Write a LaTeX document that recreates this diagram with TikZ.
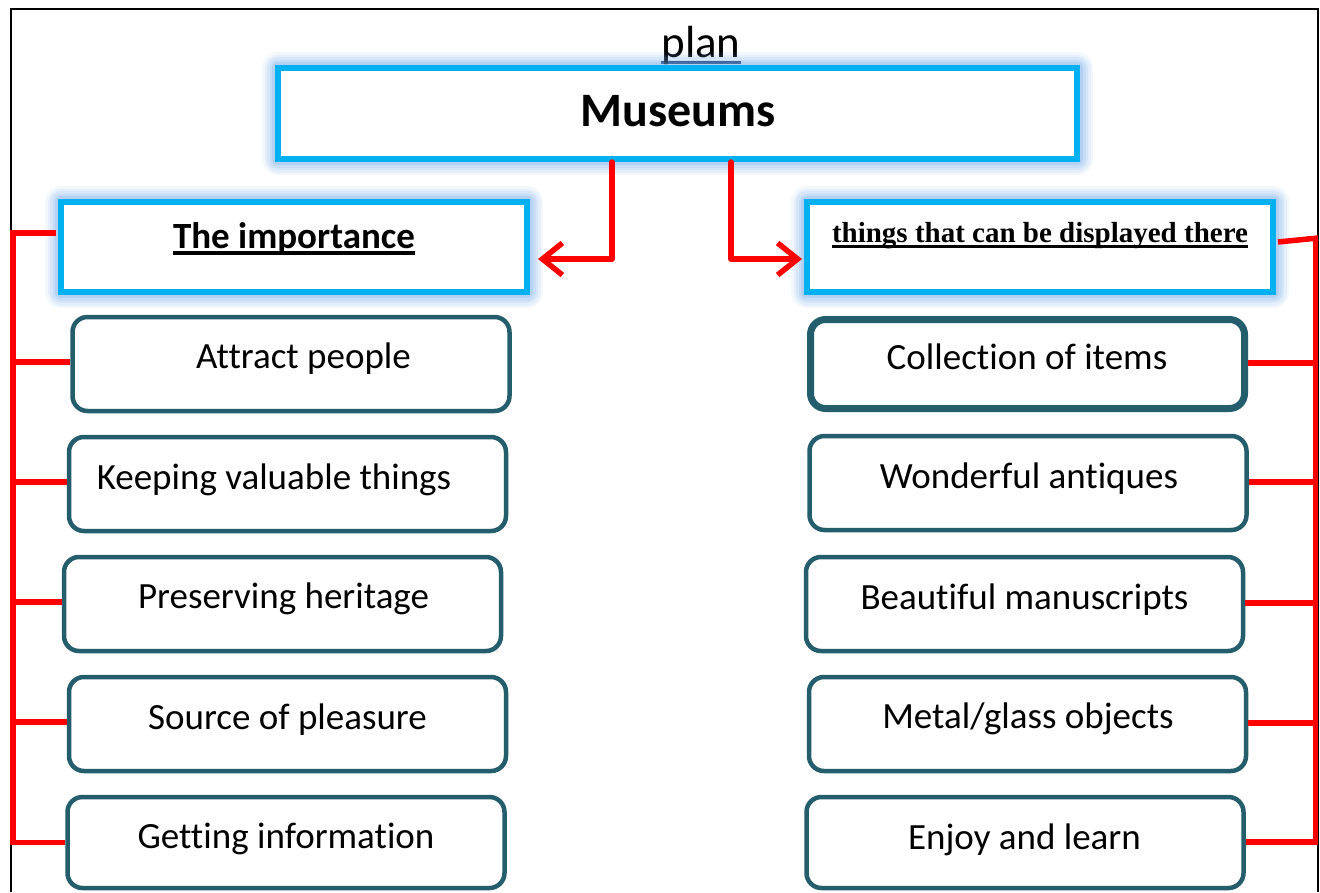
\documentclass[tikz,border=0pt]{standalone}
\usepackage{fontspec}
\setmainfont{Carlito}[Ligatures=NoCommon]
\newfontfamily\timesf{Liberation Serif}
\usetikzlibrary{arrows.meta}
\definecolor{cyanb}{HTML}{00B0F0}
\definecolor{glowc}{HTML}{6FA8EC}
\definecolor{tealb}{HTML}{245D6B}
\definecolor{navyu}{HTML}{1F3864}
\definecolor{redl}{HTML}{FF0000}
% #1 text, #2 rule thickness, #3 depth below baseline, #4 rule colour
\newcommand\myul[4]{\setbox0\hbox{#1}\rlap{\color{#4}\vrule width\wd0 height -#3 depth \dimexpr #3+#2\relax}\box0}
\begin{document}
\begin{tikzpicture}[x=1pt,y=-1pt,
  glow/.style={
    preaction={draw=glowc,line width=32pt,opacity=0.08,line join=round},
    preaction={draw=glowc,line width=27pt,opacity=0.1,line join=round},
    preaction={draw=glowc,line width=22pt,opacity=0.12,line join=round},
    preaction={draw=glowc,line width=17pt,opacity=0.15,line join=round},
    preaction={draw=glowc,line width=12pt,opacity=0.2,line join=round}},
  cyanbox/.style={rectangle,draw=cyanb,line width=6pt,fill=white,inner sep=0pt,glow},
  itembox/.style={rectangle,draw=tealb,line width=4.5pt,fill=white,rounded corners=15pt,
    inner sep=0pt,minimum width=437pt,minimum height=94pt},
  itemtxt/.style={font=\fontsize{37}{44}\selectfont,anchor=base,inner sep=0pt},
  redline/.style={draw=redl,line width=5.5pt},
  redarrow/.style={redline,line cap=round,line join=round,-{Straight Barb[length=20pt,width=32pt]}},
]
\useasboundingbox (0,0) rectangle (1320,892);
\fill[white] (0,0) rectangle (1320,892);
% page frame
\draw[black,line width=2.5pt] (11,892) -- (11,9) -- (1318,9) -- (1318,892);

% title
\node[anchor=base,inner sep=0pt,font=\fontsize{45}{54}\selectfont] (plan) at (701,57)
  {\myul{plan}{3pt}{4pt}{navyu}};

% cyan boxes
\node[cyanbox,minimum width=799pt,minimum height=91pt] (mus) at (677.5,113.5) {};
\node[cyanbox,minimum width=466pt,minimum height=90pt] (imp) at (294,247) {};
\node[cyanbox,minimum width=466pt,minimum height=90pt] (thg) at (1040,247) {};
\node[anchor=base,inner sep=0pt,font=\fontsize{48}{56}\selectfont\bfseries] (mustxt) at (678,126) {Museums};
\node[anchor=base,inner sep=0pt,font=\fontsize{37}{44}\selectfont\bfseries] (imptxt) at (294,248)
  {\myul{The importance}{4pt}{3pt}{black}};
\node[anchor=base,inner sep=0pt,font=\fontsize{29}{34}\timesf\bfseries] (thgtxt) at (1040,242)
  {\myul{things that can be displayed there}{2.5pt}{3pt}{black}};

% left items
\node[itembox] (L1) at (291,364) {};
\node[itembox] (L2) at (287.5,484) {};
\node[itembox] (L3) at (282.5,604) {};
\node[itembox] (L4) at (287.5,724) {};
\node[itembox,minimum height=91pt] (L5) at (286,842.5) {};
\node[itemtxt] (L1t) at (303.5,368) {Attract people};
\node[itemtxt] (L2t) at (274,489) {Keeping valuable things};
\node[itemtxt] (L3t) at (283.5,608) {Preserving heritage};
\node[itemtxt] (L4t) at (287.5,729) {Source of pleasure};
\node[itemtxt] (L5t) at (286,848) {Getting information};

% right items
\node[itembox,line width=7pt,minimum width=434pt,minimum height=89pt] (R1) at (1027.5,364) {};
\node[itembox] (R2) at (1028,483) {};
\node[itembox] (R3) at (1024.5,604) {};
\node[itembox] (R4) at (1027.5,724) {};
\node[itembox,minimum height=91pt] (R5) at (1025,842.5) {};
\node[itemtxt] (R1t) at (1027,369) {Collection of items};
\node[itemtxt] (R2t) at (1029,488) {Wonderful antiques};
\node[itemtxt] (R3t) at (1024.5,609) {Beautiful manuscripts};
\node[itemtxt] (R4t) at (1028,728) {Metal/glass objects};
\node[itemtxt] (R5t) at (1024.5,849) {Enjoy and learn};

% arrows from Museums
\draw[redarrow] ([xshift=-65.5pt]mus.south) |- ([xshift=8pt,yshift=-12pt]imp.east);
\draw[redarrow] ([xshift=53.5pt]mus.south) |- ([xshift=-2pt,yshift=-12pt]thg.west);

% left bracket
\coordinate (lx) at (13,0);
\coordinate (limp) at ([xshift=-2pt,yshift=14pt]imp.west);
\draw[redline] (limp) -- (limp -| lx) -- (L5.west -| lx) -- (L5.west);
\foreach \n in {L1,L2,L3,L4}{\draw[redline] ([yshift=2pt]\n.west -| lx) -- ([yshift=2pt]\n.west);}

% right bracket
\coordinate (rx) at (1315.5,0);
\coordinate (rthg) at ([xshift=2pt,yshift=5pt]thg.east);
\coordinate (rtop) at (1318,238);
\draw[redline] (rthg) -- (rtop);
\draw[redline] (rtop -| rx) -- ([yshift=0.5pt]R5.east -| rx) -- ([yshift=0.5pt]R5.east);
\foreach \n in {R1,R2,R3,R4}{\draw[redline] ([yshift=1pt]\n.east) -- ([yshift=1pt]\n.east -| rx);}
\end{tikzpicture}
\end{document}
